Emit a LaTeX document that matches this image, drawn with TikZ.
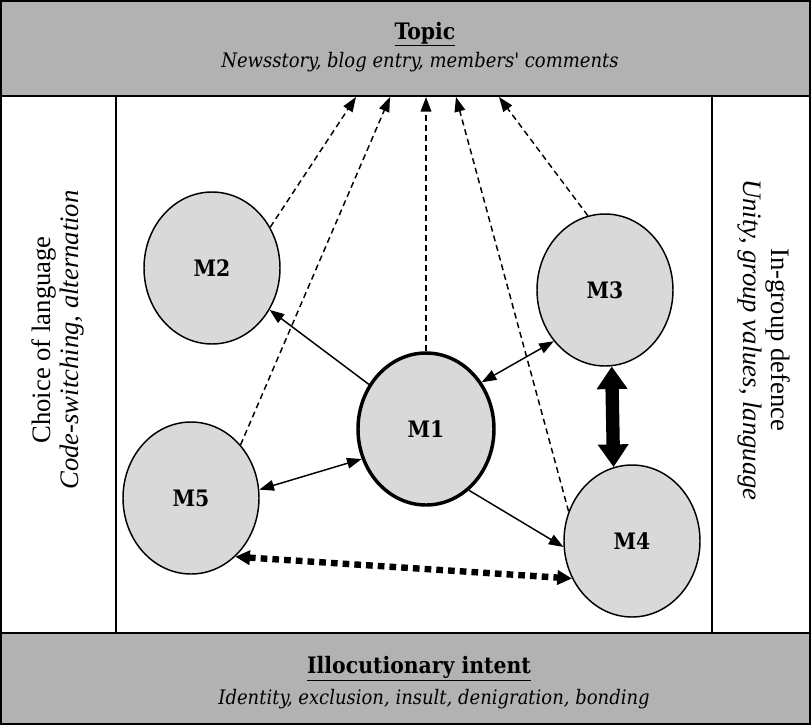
\documentclass[tikz,border=0pt]{standalone}
\usepackage{fontspec}
\setmainfont{Liberation Serif}
\newfontfamily\slabfont{DejaVu Serif Condensed}
\usetikzlibrary{arrows.meta,shapes.geometric}
\definecolor{bandgray}{RGB}{178,178,178}
\definecolor{membergray}{RGB}{217,217,217}

\begin{document}
\begin{tikzpicture}[x=0.75pt,y=-0.75pt,>={Triangle[length=11pt,width=8pt]},
member/.style={ellipse,draw,line width=1.1pt,fill=membergray,minimum width=102pt,minimum height=114pt,inner sep=0pt,font=\slabfont\bfseries\fontsize{17}{20}\selectfont},
bandtitle/.style={anchor=base,font=\slabfont\bfseries\fontsize{17}{20}\selectfont},
bandsub/.style={anchor=base,font=\slabfont\itshape\fontsize{15}{20}\selectfont},
sidetext/.style={align=center,font=\fontsize{20}{20.5}\selectfont},
link/.style={line width=1.1pt,->},
totopic/.style={line width=1.1pt,dash pattern=on 4.5pt off 3pt,->}]
\useasboundingbox(0,0)rectangle(811,725);
\path[draw,line width=1.6pt,fill=white](1,1)rectangle(810,724);
\path[draw,line width=1.6pt,fill=bandgray](1,1)rectangle(810,96);
\path[draw,line width=1.6pt,fill=bandgray](1,633)rectangle(810,724);
\draw[line width=1.2pt](116,96)--(116,633);
\draw[line width=1.2pt](712,96)--(712,633);
\node[bandtitle](topic)at(425,39){\underline{Topic}};
\node[bandsub](topicsub)at(420,67){Newsstory, blog entry, members' comments};
\node[bandtitle](intent)at(419,673){\underline{Illocutionary intent}};
\node[bandsub](intentsub)at(434,704){Identity, exclusion, insult, denigration, bonding};
\node[sidetext,rotate=90](language)at(58,340){Choice of language\\\textit{Code-switching, alternation}};
\node[sidetext,rotate=-90](defence)at(764,340){In-group defence\\\textit{Unity, group values, language}};
\node[member,line width=2.6pt](m1)at(426,429){M1};
\node[member](m2)at(212,268){M2};
\node[member](m3)at(605,290){M3};
\node[member](m4)at(632,541){M4};
\node[member](m5)at(191,498){M5};
\coordinate(t2)at(356,97);
\coordinate(t5)at(390,97);
\coordinate(t1)at(426,97);
\coordinate(t4)at(456,97);
\coordinate(t3)at(499,97);
\draw[totopic](m2.35)--(t2);
\draw[totopic](m5.47)--(t5);
\draw[totopic](m1.north)--(t1);
\draw[totopic](m4.155)--(t4);
\draw[totopic](m3.103)--(t3);
\draw[link](m1.142)--(m2.324);
\draw[link,<->](m1.40)--(m3.225);
\draw[link,<->](m1.205)--(m5.7);
\draw[link](m1.305)--(m4.185);
\draw[line width=10pt,{Triangle[length=17pt,width=22pt]}-{Triangle[length=17pt,width=22pt]}](m3.275)--(m4.104);
\draw[line width=4.8pt,dash pattern=on 5pt off 3.8pt,{Triangle[length=11pt,width=10.5pt]}-{Triangle[length=11pt,width=10.5pt]}](m5.307)--(m4.212);
\end{tikzpicture}
\end{document}
